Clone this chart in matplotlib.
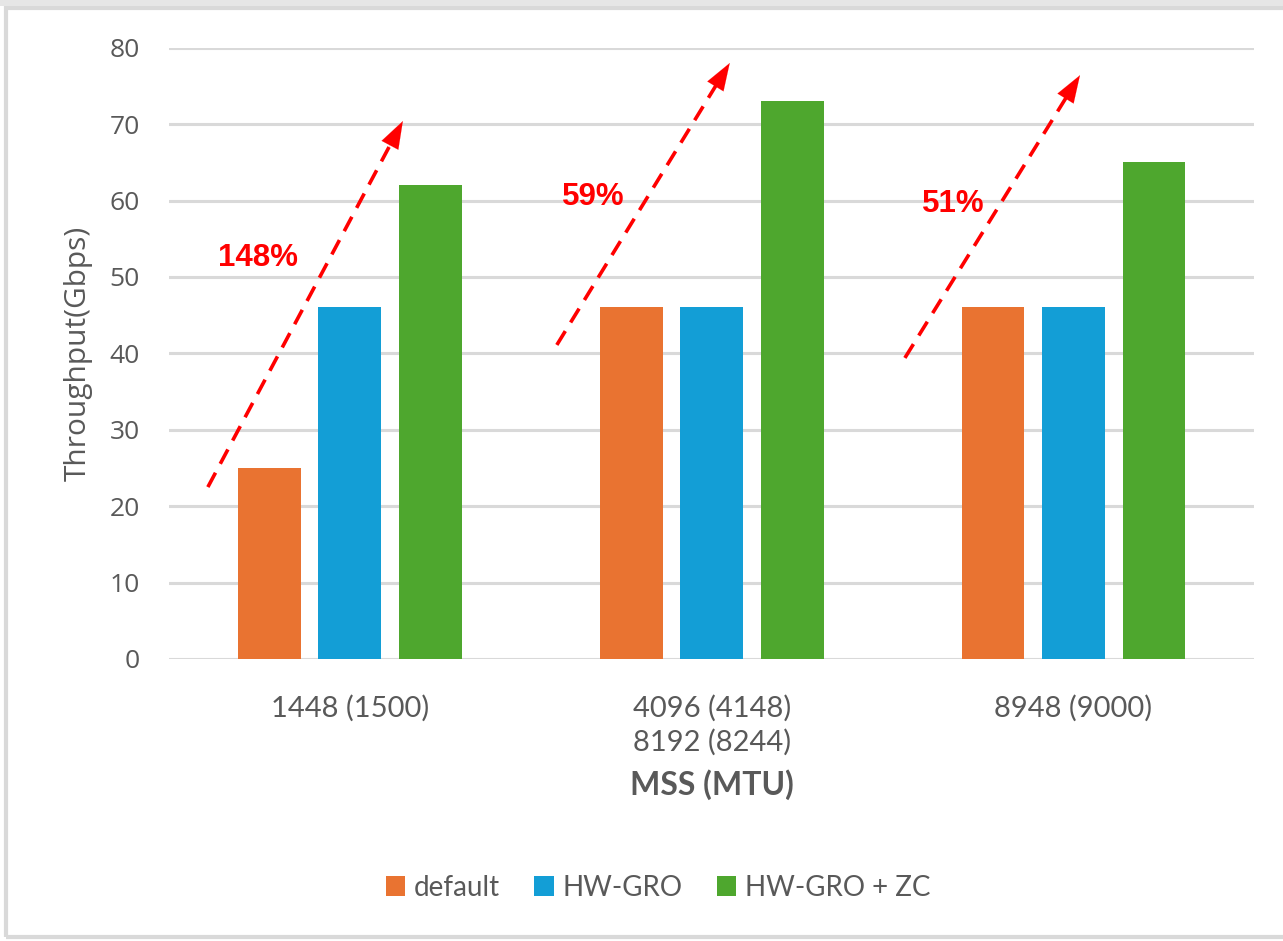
import matplotlib
matplotlib.use("Agg")
import matplotlib.pyplot as plt
from matplotlib.patches import Rectangle, Patch
import numpy as np

# Throughput by MSS (MTU) setting
categories = ["1448 (1500)", "4096 (4148)\n8192 (8244)", "8948 (9000)"]
series_names = ["default", "HW-GRO", "HW-GRO + ZC"]
default_gbps = [25, 46, 46]
hwgro_gbps = [46, 46, 46]
hwgro_zc_gbps = [62, 73, 65]
gain_labels = ["148%", "59%", "51%"]

colors = ["#E97331", "#139ED6", "#4EA72E"]
text_gray = "#595959"

fig = plt.figure(figsize=(12.83, 9.41), dpi=100)
ax = fig.add_axes([0.1317, 0.2997, 0.846, 0.6496])

x = np.arange(len(categories))
offset = 0.2225
width = 0.174
for i, (vals, name, c) in enumerate(zip([default_gbps, hwgro_gbps, hwgro_zc_gbps], series_names, colors)):
    ax.bar(x + (i - 1) * offset, vals, width=width, color=c, label=name, zorder=3)

ax.set_xlim(-0.5, 2.5)
ax.set_ylim(0, 80)
ax.set_yticks(np.arange(0, 81, 10))
ax.yaxis.grid(True, color="#d9d9d9", linewidth=2.2, zorder=0)
ax.set_axisbelow(True)
for s in ax.spines.values():
    s.set_visible(False)
ax.tick_params(axis="both", length=0)
ax.tick_params(axis="y", pad=21, labelsize=19, labelcolor=text_gray)
for lab in ax.get_yticklabels():
    lab.set_family("Open Sans")

ax.set_xticks(x)
ax.set_xticklabels(categories, family="Lato", fontsize=21, color=text_gray, linespacing=1.3)
ax.tick_params(axis="x", pad=26)

ax.set_xlabel("MSS (MTU)", family="Lato", fontsize=23, fontweight="bold", color=text_gray, labelpad=10)
ax.set_ylabel("Throughput(Gbps)", family="Open Sans", fontsize=21.5, color=text_gray, labelpad=12)

# Red dashed growth arrows with percentage labels
arrow_starts = [(-0.3925, 22.5), (0.572, 41.1), (1.534, 39.4)]
arrow_tips = [(0.1465, 70.4), (1.050, 78.0), (2.018, 76.4)]
label_pos = [(-0.254, 52.5), (0.6725, 60.5), (1.667, 59.5)]
red = "#FF0000"
for (x0, y0), (x1, y1), (lx, ly), txt in zip(arrow_starts, arrow_tips, label_pos, gain_labels):
    # dashed shaft stops just under the arrow head
    frac = 0.93
    xs, ys = x0 + (x1 - x0) * frac, y0 + (y1 - y0) * frac
    ax.plot([x0, xs], [y0, ys], color=red, linewidth=2.6, dashes=(4.5, 2.8), zorder=5,
            solid_capstyle="butt", dash_capstyle="butt")
    ax.annotate("", xy=(x1, y1), xytext=(x0 + (x1 - x0) * 0.9, y0 + (y1 - y0) * 0.9),
                arrowprops=dict(arrowstyle="-|>,head_length=0.98,head_width=0.34",
                                mutation_scale=20, color=red, linewidth=0.1,
                                shrinkA=0, shrinkB=0),
                zorder=6)
    ax.text(lx, ly, txt, color=red, fontsize=22.5, fontweight="bold",
            family="Liberation Sans", ha="center", va="center", zorder=6)

# Legend below the axis title
handles = [Patch(facecolor=c, edgecolor="none") for c in colors]
leg = fig.legend(handles, series_names, loc="center", bbox_to_anchor=(658 / 1283, 1 - 888 / 941),
                 ncol=3, frameon=False, handlelength=0.7, handleheight=0.75,
                 handletextpad=0.3, columnspacing=1.25,
                 prop={"family": "Lato", "size": 20})
for t in leg.get_texts():
    t.set_color(text_gray)

# Light gray frame around the chart area
fig.patches.append(Rectangle((6 / 1283, 4 / 941), 1.1, 1 - 12 / 941, transform=fig.transFigure,
                             fill=False, edgecolor="#d9d9d9", linewidth=3, zorder=0))
fig.patches.append(Rectangle((0, 1 - 6 / 941), 1, 6 / 941, transform=fig.transFigure,
                             facecolor="#e6e6e6", edgecolor="none", zorder=0))

fig.savefig("out.png", dpi=100, facecolor="white")
